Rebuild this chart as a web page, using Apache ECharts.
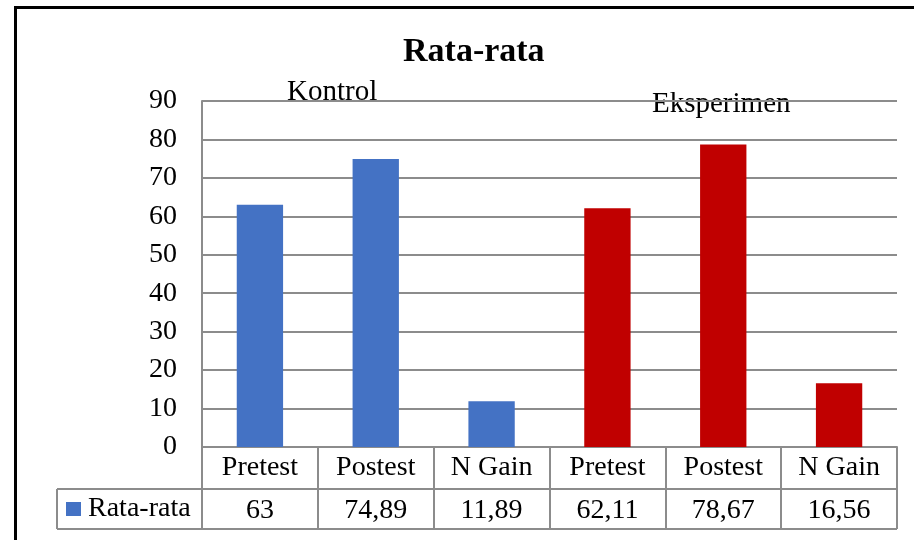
<!DOCTYPE html>
<html>
<head>
<meta charset="utf-8">
<style>
  html, body { margin: 0; padding: 0; background: #fff; }
  #chart { width: 914px; height: 540px; }
</style>
<script src="https://cdn.jsdelivr.net/npm/echarts@6/dist/echarts.min.js"></script>
</head>
<body>
<div id="chart"></div>
<script>
// Average scores per test stage for the control and experiment classes
const categories = ['Pretest', 'Postest', 'N Gain', 'Pretest', 'Postest', 'N Gain'];
const values = [63, 74.89, 11.89, 62.11, 78.67, 16.56];
const groupOf = ['Kontrol', 'Kontrol', 'Kontrol', 'Eksperimen', 'Eksperimen', 'Eksperimen'];
const groupLabels = ['Kontrol', 'Eksperimen'];
const seriesName = 'Rata-rata';
const yTicks = { min: 0, max: 90, step: 10 };

const FONT = '"Liberation Serif", "Times New Roman", serif';
const GRID_COLOR = '#8c8c8c';
const groupColors = { 'Kontrol': '#4472C4', 'Eksperimen': '#C00000' };

// Values in the data table use a decimal comma
const fmt = v => String(v).replace('.', ',');

const chart = echarts.init(document.getElementById('chart'), null, { renderer: 'canvas' });

const gridLeft = 202, gridRight = 17, gridTop = 101, gridBottom = 93;
const plotRight = 914 - gridRight;
const axisY = 540 - gridBottom;
const headH = 42, rowH = 40;
const tableLeft = 57;

chart.setOption({
  animation: false,
  backgroundColor: '#fff',
  title: {
    text: seriesName,
    left: 398,
    top: 30,
    textStyle: { fontFamily: FONT, fontSize: 34, fontWeight: 'bold', color: '#000' }
  },
  legend: {
    data: [seriesName],
    left: 66,
    top: axisY + headH + 6,
    padding: 0,
    icon: 'rect',
    itemWidth: 15,
    itemHeight: 14,
    itemGap: 6,
    textStyle: { fontFamily: FONT, fontSize: 28, color: '#000', padding: [0, 0, 0, 2] }
  },
  grid: { left: gridLeft, right: gridRight, top: gridTop, bottom: gridBottom, containLabel: false },
  xAxis: [
    {
      type: 'category',
      data: categories,
      position: 'bottom',
      axisLine: { show: true, lineStyle: { color: GRID_COLOR, width: 2 } },
      axisTick: { show: true, interval: 0, length: headH + rowH, lineStyle: { color: GRID_COLOR, width: 2 } },
      axisLabel: { interval: 0, margin: 7, fontFamily: FONT, fontSize: 28, color: '#000' }
    },
    {
      type: 'category',
      data: values.map(fmt),
      position: 'bottom',
      offset: headH,
      axisLine: { show: false },
      axisTick: { show: false },
      axisLabel: { interval: 0, margin: 8, fontFamily: FONT, fontSize: 28, color: '#000' }
    }
  ],
  yAxis: {
    type: 'value',
    min: yTicks.min,
    max: yTicks.max,
    interval: yTicks.step,
    axisLine: { show: true, lineStyle: { color: GRID_COLOR, width: 2 } },
    axisTick: { show: false },
    splitLine: { show: true, lineStyle: { color: GRID_COLOR, width: 2 } },
    axisLabel: { margin: 25, fontFamily: FONT, fontSize: 28, color: '#000' }
  },
  series: [{
    name: seriesName,
    type: 'bar',
    xAxisIndex: 0,
    barWidth: '40%',
    itemStyle: { color: groupColors['Kontrol'] },
    data: values.map((v, i) => ({ value: v, itemStyle: { color: groupColors[groupOf[i]] } }))
  }],
  graphic: [
    // outer frame
    { type: 'rect', shape: { x: 15.5, y: 7.5, width: 1000, height: 1000 },
      style: { fill: 'none', stroke: '#000', lineWidth: 3 }, silent: true },
    // data table rules
    { type: 'line', shape: { x1: tableLeft, y1: axisY + headH, x2: plotRight, y2: axisY + headH },
      style: { stroke: GRID_COLOR, lineWidth: 2 } },
    { type: 'line', shape: { x1: tableLeft, y1: axisY + headH + rowH, x2: plotRight, y2: axisY + headH + rowH },
      style: { stroke: GRID_COLOR, lineWidth: 2 } },
    { type: 'line', shape: { x1: tableLeft, y1: axisY + headH, x2: tableLeft, y2: axisY + headH + rowH },
      style: { stroke: GRID_COLOR, lineWidth: 2 } },
    // group captions
    { type: 'text', left: 287, top: 78,
      style: { text: groupLabels[0], font: '29px ' + FONT, fill: '#000' } },
    { type: 'text', left: 652, top: 90,
      style: { text: groupLabels[1], font: '29px ' + FONT, fill: '#000' } }
  ]
});
</script>
</body>
</html>
